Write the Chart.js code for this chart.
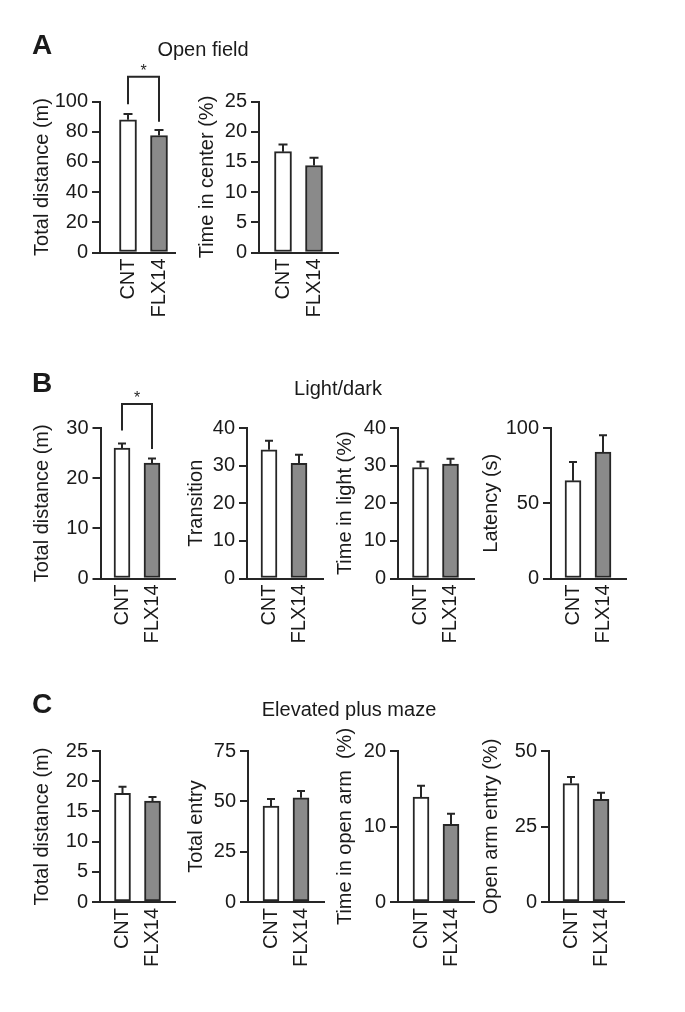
<!DOCTYPE html>
<html>
<head>
<meta charset="utf-8">
<script src="https://cdn.jsdelivr.net/npm/chart.js@4"></script>
<style>
  body { margin: 0; background: #fff; width: 685px; height: 1012px; position: relative; overflow: hidden;
         font-family: 'Liberation Sans', Arial, sans-serif; color: #1a1a1a; }
  canvas { position: absolute; }
  .txt { position: absolute; white-space: nowrap; line-height: 1; z-index: 2; }
  .letter { font-size: 28px; font-weight: bold; }
  .row-title { font-size: 20px; width: 300px; text-align: center; }
</style>
</head>
<body>
<div class="txt letter" style="left:32px;top:31px">A</div>
<div class="txt letter" style="left:32px;top:369px">B</div>
<div class="txt letter" style="left:32px;top:690px">C</div>
<div class="txt row-title" style="left:53px;top:39px">Open field</div>
<div class="txt row-title" style="left:188px;top:378px">Light/dark</div>
<div class="txt row-title" style="left:199px;top:699px">Elevated plus maze</div>

<script>
// Groups shown on every x axis.
const groups = ['CNT', 'FLX14'];

// A - open field
const ofDistance = [87.9, 77.5];
const ofDistanceSem = [3.8, 3.6];
const ofDistanceTicks = [0, 20, 40, 60, 80, 100];
const ofDistanceSig = [116.4, 98.1, 86.6];   // bracket top, left leg end, right leg end
const ofCenter = [16.7, 14.4];
const ofCenterSem = [1.2, 1.3];
const ofCenterTicks = [0, 5, 10, 15, 20, 25];

// B - light/dark
const ldDistance = [26.0, 23.0];
const ldDistanceSem = [0.9, 0.9];
const ldDistanceTicks = [0, 10, 20, 30];
const ldDistanceSig = [34.8, 29.5, 25.8];
const ldTransition = [34.2, 30.6];
const ldTransitionSem = [2.4, 2.3];
const ldTransitionTicks = [0, 10, 20, 30, 40];
const ldLight = [29.5, 30.4];
const ldLightSem = [1.5, 1.4];
const ldLightTicks = [0, 10, 20, 30, 40];
const ldLatency = [65, 84];
const ldLatencySem = [12.4, 11.2];
const ldLatencyTicks = [0, 50, 100];

// C - elevated plus maze
const epmDistance = [18.0, 16.7];
const epmDistanceSem = [1.1, 0.7];
const epmDistanceTicks = [0, 5, 10, 15, 20, 25];
const epmEntry = [47.7, 51.8];
const epmEntrySem = [3.5, 3.3];
const epmEntryTicks = [0, 25, 50, 75];
const epmOpenTime = [13.9, 10.3];
const epmOpenTimeSem = [1.5, 1.4];
const epmOpenTimeTicks = [0, 10, 20];
const epmOpenEntry = [39.2, 34.0];
const epmOpenEntrySem = [2.2, 2.2];
const epmOpenEntryTicks = [0, 25, 50];

const INK = '#262626';
const FILLS = ['#ffffff', '#8a8a8a'];

Chart.defaults.font.family = "'Liberation Sans', Arial, sans-serif";
Chart.defaults.font.size = 20;
Chart.defaults.color = '#1a1a1a';

// Whiskers (upper half only) and the significance bracket.
const errorBarPlugin = {
    id: 'errorBars',
    afterDatasetsDraw(chart, args, opts) {
        const ctx = chart.ctx;
        const y = chart.scales.y;
        const meta = chart.getDatasetMeta(0);
        ctx.save();
        ctx.strokeStyle = INK;
        ctx.lineWidth = 2;
        meta.data.forEach((el, i) => {
            const top = y.getPixelForValue(opts.means[i] + opts.sem[i]);
            ctx.beginPath();
            ctx.moveTo(el.x, el.y);
            ctx.lineTo(el.x, top);
            ctx.moveTo(el.x - opts.cap / 2, top);
            ctx.lineTo(el.x + opts.cap / 2, top);
            ctx.stroke();
        });
        if (opts.sig) {
            const x1 = meta.data[0].x, x2 = meta.data[1].x;
            const yt = y.getPixelForValue(opts.sig[0]);
            ctx.beginPath();
            ctx.moveTo(x1, y.getPixelForValue(opts.sig[1]));
            ctx.lineTo(x1, yt);
            ctx.lineTo(x2, yt);
            ctx.lineTo(x2, y.getPixelForValue(opts.sig[2]));
            ctx.stroke();
            ctx.fillStyle = INK;
            ctx.font = "16px 'Liberation Sans', Arial, sans-serif";
            ctx.textAlign = 'center';
            ctx.textBaseline = 'alphabetic';
            ctx.fillText('*', (x1 + x2) / 2, yt - 1);
        }
        ctx.restore();
    }
};

const panels = [
    { title: 'Total distance (m)', means: ofDistance, sem: ofDistanceSem, ticks: ofDistanceTicks, sig: ofDistanceSig,
      geo: { ax: 100, top: 101.5, bot: 252.5, c1: 128, c2: 159, right: 175, titleX: 42, bar: 17 } },
    { title: 'Time in center (%)', means: ofCenter, sem: ofCenterSem, ticks: ofCenterTicks,
      geo: { ax: 259, top: 101.5, bot: 252.5, c1: 283, c2: 314, right: 338, titleX: 207, bar: 17 } },

    { title: 'Total distance (m)', means: ldDistance, sem: ldDistanceSem, ticks: ldDistanceTicks, sig: ldDistanceSig,
      geo: { ax: 100.5, top: 428, bot: 578.5, c1: 122, c2: 152, right: 175, titleX: 42, bar: 16 } },
    { title: 'Transition', means: ldTransition, sem: ldTransitionSem, ticks: ldTransitionTicks,
      geo: { ax: 247, top: 428, bot: 578.5, c1: 269, c2: 299, right: 323, titleX: 196, bar: 16 } },
    { title: 'Time in light (%)', means: ldLight, sem: ldLightSem, ticks: ldLightTicks,
      geo: { ax: 398, top: 428, bot: 578.5, c1: 420.5, c2: 450.5, right: 474, titleX: 345, bar: 16 } },
    { title: 'Latency (s)', means: ldLatency, sem: ldLatencySem, ticks: ldLatencyTicks,
      geo: { ax: 551, top: 428, bot: 578.5, c1: 573, c2: 603, right: 626, titleX: 491, bar: 16 } },

    { title: 'Total distance (m)', means: epmDistance, sem: epmDistanceSem, ticks: epmDistanceTicks,
      geo: { ax: 100, top: 751, bot: 902, c1: 122.5, c2: 152.5, right: 175, titleX: 42, bar: 16 } },
    { title: 'Total entry', means: epmEntry, sem: epmEntrySem, ticks: epmEntryTicks,
      geo: { ax: 248, top: 751, bot: 902, c1: 271, c2: 301, right: 324, titleX: 196, bar: 16 } },
    { title: 'Time in open arm  (%)', means: epmOpenTime, sem: epmOpenTimeSem, ticks: epmOpenTimeTicks,
      geo: { ax: 398, top: 751, bot: 902, c1: 421, c2: 451, right: 474, titleX: 345, bar: 16 } },
    { title: 'Open arm entry (%)', means: epmOpenEntry, sem: epmOpenEntrySem, ticks: epmOpenEntryTicks,
      geo: { ax: 549, top: 751, bot: 902, c1: 571, c2: 601, right: 624, titleX: 491, bar: 16 } }
];

function makeChart(p) {
    const g = p.geo;
    const left = Math.round(g.titleX - 12);
    const top = Math.round(g.top - 45);
    const width = Math.round(g.right + 24 - left);
    const height = Math.round(g.bot - top + 75);
    const xHeight = height - (g.bot - top);
    const spacing = g.c2 - g.c1;

    const canvas = document.createElement('canvas');
    canvas.width = width;
    canvas.height = height;
    canvas.style.left = left + 'px';
    canvas.style.top = top + 'px';
    canvas.style.width = width + 'px';
    canvas.style.height = height + 'px';
    document.body.appendChild(canvas);

    new Chart(canvas.getContext('2d'), {
        type: 'bar',
        data: {
            datasets: [{
                data: groups.map((gName, i) => ({ x: i, y: p.means[i] })),
                backgroundColor: FILLS,
                borderColor: INK,
                borderWidth: 2,
                borderSkipped: false,
                barThickness: g.bar
            }]
        },
        options: {
            responsive: false,
            animation: false,
            devicePixelRatio: 1,
            events: [],
            layout: { padding: { left: 0, top: g.top - top, right: left + width - g.right, bottom: 0 } },
            plugins: {
                legend: { display: false },
                tooltip: { enabled: false },
                errorBars: { means: p.means, sem: p.sem, sig: p.sig, cap: g.bar === 17 ? 9 : 8 }
            },
            scales: {
                x: {
                    type: 'linear',
                    offset: false,
                    bounds: 'data',
                    min: -(g.c1 - g.ax) / spacing,
                    max: 1 + (g.right - g.c2) / spacing,
                    afterBuildTicks: s => { s.ticks = groups.map((gName, i) => ({ value: i })); },
                    afterFit: s => { s.height = xHeight; },
                    grid: { display: false, drawTicks: false, offset: false },
                    border: { display: true, color: INK, width: 2 },
                    ticks: {
                        autoSkip: false,
                        minRotation: 90,
                        maxRotation: 90,
                        padding: 6,
                        font: { size: 20 },
                        callback: v => groups[v]
                    }
                },
                y: {
                    min: p.ticks[0],
                    max: p.ticks[p.ticks.length - 1],
                    afterBuildTicks: s => { s.ticks = p.ticks.map(v => ({ value: v })); },
                    afterFit: s => { s.width = g.ax - left; },
                    grid: { display: true, drawOnChartArea: false, drawTicks: true, tickLength: 8, color: INK, lineWidth: 2 },
                    border: { display: true, color: INK, width: 2 },
                    ticks: { padding: 4, font: { size: 20 } },
                    title: { display: true, text: p.title, font: { size: 20 }, padding: { top: 0, bottom: 0 } }
                }
            }
        },
        plugins: [errorBarPlugin]
    });
}

panels.forEach(makeChart);
</script>
</body>
</html>
